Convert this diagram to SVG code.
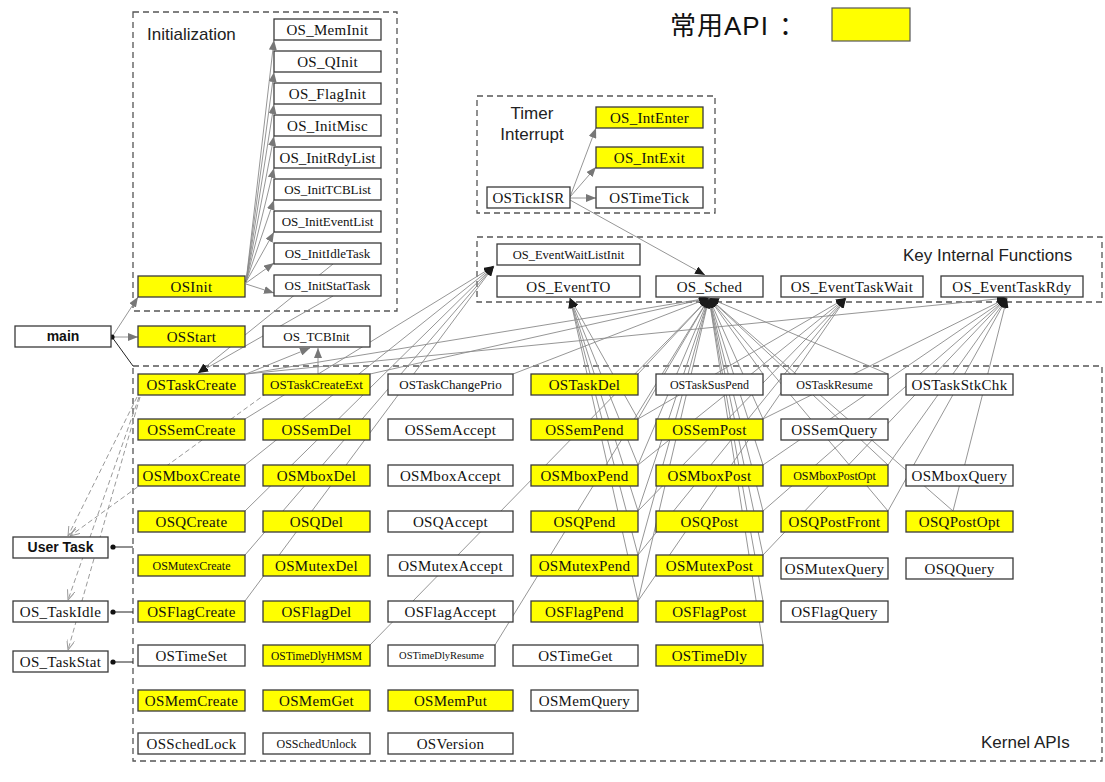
<svg xmlns="http://www.w3.org/2000/svg" width="1105" height="782" viewBox="0 0 1105 782">
<style>
  .bx{stroke:#3a3a3a;stroke-width:1.3;fill:#fff}
  .y{fill:#ffff00}
  .t{font-family:"Liberation Serif","Times New Roman",serif;font-size:15px;fill:#111;text-anchor:middle;letter-spacing:0.3px}
  .s13{font-size:13px;letter-spacing:0}
  .s12{font-size:12px;letter-spacing:0}
  .s11{font-size:11.5px;letter-spacing:0}
  .s10{font-size:10.5px;letter-spacing:0}
  .s125{font-size:12.5px;letter-spacing:0}
  .lbl{font-family:"Liberation Sans",Arial,sans-serif;font-size:17px;fill:#222}
  .bold{font-family:"Liberation Sans",Arial,sans-serif;font-size:14px;font-weight:bold;fill:#111;text-anchor:middle}
  .grp{fill:none;stroke:#555;stroke-width:1.3;stroke-dasharray:6,4}
  .ca{stroke:#8a8a8a;stroke-width:0.9;fill:none;marker-end:url(#arr)}
  .ck{stroke:#8a8a8a;stroke-width:0.9;fill:none;marker-end:url(#arrk)}
  .cd{stroke:#9a9a9a;stroke-width:1;fill:none;stroke-dasharray:5,3;marker-end:url(#open)}
  .k{stroke:#222;stroke-width:1;fill:none}
</style>
<defs>
  <marker id="arr" viewBox="0 0 10 8" refX="10" refY="4" markerWidth="10" markerHeight="8" markerUnits="userSpaceOnUse" orient="auto">
    <path d="M0,0 L10,4 L0,8 z" fill="#777"/>
  </marker>
  <marker id="arrk" viewBox="0 0 10 8" refX="10" refY="4" markerWidth="10" markerHeight="8" markerUnits="userSpaceOnUse" orient="auto">
    <path d="M0,0 L10,4 L0,8 z" fill="#1a1a1a"/>
  </marker>
  <marker id="open" viewBox="0 0 10 8" refX="10" refY="4" markerWidth="10" markerHeight="8" markerUnits="userSpaceOnUse" orient="auto">
    <path d="M0,0 L10,4 L0,8" fill="none" stroke="#999" stroke-width="1"/>
  </marker>
</defs>
<rect width="1105" height="782" fill="#fff"/>

<!-- legend -->
<g id="legend">
  <text x="670" y="35" font-family="'Liberation Sans','Noto Sans CJK SC',sans-serif" font-size="26" letter-spacing="1" fill="#111">常用API<tspan dx="10">：</tspan></text>
  <rect x="832" y="8" width="78" height="33" fill="#ffff00" stroke="#555" stroke-width="1.2"/>
</g>

<!-- cluster frames -->
<g id="clusters">
  <rect class="grp" x="133" y="12" width="264" height="299"/>
  <text class="lbl" x="147" y="40">Initialization</text>
  <rect class="grp" x="477" y="96" width="238" height="117"/>
  <text class="lbl" x="532" y="119" text-anchor="middle">Timer</text>
  <text class="lbl" x="532" y="140" text-anchor="middle">Interrupt</text>
  <rect class="grp" x="477" y="237" width="625" height="65"/>
  <text class="lbl" x="903" y="261">Key Internal Functions</text>
  <rect class="grp" x="133" y="366" width="969" height="395"/>
  <text class="lbl" x="981" y="748" font-size="17.5">Kernel APIs</text>
</g>

<!-- call connectors -->
<g id="connectors">
  <!-- OSInit fan -->
  <line class="ca" x1="246" y1="282" x2="274" y2="40"/>
  <line class="ca" x1="246" y1="282" x2="274" y2="72"/>
  <line class="ca" x1="246" y1="282" x2="274" y2="104"/>
  <line class="ca" x1="246" y1="282" x2="274" y2="136"/>
  <line class="ca" x1="246" y1="282" x2="274" y2="168"/>
  <line class="ca" x1="246" y1="282" x2="274" y2="200"/>
  <line class="ca" x1="246" y1="282" x2="274" y2="232"/>
  <line class="ca" x1="246" y1="283" x2="274" y2="263"/>
  <line class="ca" x1="246" y1="284" x2="274" y2="293"/>
  <!-- timer ISR -->
  <line class="ca" x1="570" y1="197" x2="596" y2="128"/>
  <line class="ca" x1="570" y1="197" x2="596" y2="167"/>
  <line class="ca" x1="570" y1="198" x2="596" y2="198"/>
  <line class="ck" x1="570" y1="200" x2="705" y2="275"/>
  <!-- main -->
  <line class="ca" x1="112" y1="337" x2="138" y2="337"/>
  <line class="ca" x1="112" y1="337" x2="138" y2="297"/>
  <line class="k" x1="112" y1="337" x2="133" y2="366"/>
  <circle cx="112" cy="337" r="2.6" fill="#111"/>
  <!-- task entries attached to the kernel -->
  <line class="k" x1="113" y1="547" x2="133" y2="547"/>
  <circle cx="113" cy="547" r="2.6" fill="#111"/>
  <line class="k" x1="113" y1="612" x2="133" y2="612"/>
  <circle cx="113" cy="612" r="2.6" fill="#111"/>
  <line class="k" x1="113" y1="662" x2="133" y2="662"/>
  <circle cx="113" cy="662" r="2.6" fill="#111"/>
  <!-- task creation (dashed) -->
  <line class="cd" x1="137" y1="397" x2="68" y2="536"/>
  <line class="cd" x1="139" y1="397" x2="68" y2="600"/>
  <line class="cd" x1="140" y1="397" x2="68" y2="650"/>
  <line class="cd" x1="267" y1="393" x2="70" y2="536"/>
  <!-- idle/stat task creation -->
  <line class="ck" x1="333" y1="264" x2="198" y2="373"/>
  <line class="ck" x1="333" y1="296" x2="198" y2="373"/>
  <!-- TCB init -->
  <line class="ca" x1="246" y1="374" x2="310" y2="348"/>
  <line class="ca" x1="318" y1="374" x2="318" y2="348"/>
  <!-- event wait list init -->
  <line class="ck" x1="245" y1="419" x2="494" y2="266"/>
  <line class="ck" x1="245" y1="465" x2="494" y2="266"/>
  <line class="ck" x1="245" y1="511" x2="494" y2="266"/>
  <line class="ck" x1="245" y1="555" x2="494" y2="266"/>
  <line class="ck" x1="245" y1="601" x2="494" y2="266"/>
  <!-- scheduler -->
  <line class="ck" x1="246" y1="374" x2="709" y2="298"/>
  <line class="ck" x1="370" y1="374" x2="709" y2="298"/>
  <line class="ck" x1="513" y1="374" x2="709" y2="298"/>
  <line class="ck" x1="638" y1="374" x2="709" y2="298"/>
  <line class="ck" x1="763" y1="374" x2="709" y2="298"/>
  <line class="ck" x1="888" y1="374" x2="709" y2="298"/>
  <line class="ck" x1="638" y1="419" x2="709" y2="298"/>
  <line class="ck" x1="638" y1="465" x2="709" y2="298"/>
  <line class="ck" x1="638" y1="511" x2="709" y2="298"/>
  <line class="ck" x1="638" y1="555" x2="709" y2="298"/>
  <line class="ck" x1="638" y1="601" x2="709" y2="298"/>
  <line class="ck" x1="763" y1="419" x2="709" y2="298"/>
  <line class="ck" x1="763" y1="465" x2="709" y2="298"/>
  <line class="ck" x1="763" y1="511" x2="709" y2="298"/>
  <line class="ck" x1="763" y1="555" x2="709" y2="298"/>
  <line class="ck" x1="763" y1="601" x2="709" y2="298"/>
  <line class="ck" x1="888" y1="465" x2="709" y2="298"/>
  <line class="ck" x1="888" y1="511" x2="709" y2="298"/>
  <line class="ck" x1="953" y1="511" x2="709" y2="298"/>
  <line class="ck" x1="370" y1="645" x2="709" y2="298"/>
  <line class="ck" x1="495" y1="645" x2="709" y2="298"/>
  <line class="ck" x1="763" y1="645" x2="709" y2="298"/>
  <!-- event timeout -->
  <line class="ck" x1="638" y1="419" x2="570" y2="298"/>
  <line class="ck" x1="638" y1="465" x2="570" y2="298"/>
  <line class="ck" x1="638" y1="511" x2="570" y2="298"/>
  <line class="ck" x1="638" y1="555" x2="570" y2="298"/>
  <line class="ck" x1="638" y1="601" x2="570" y2="298"/>
  <!-- event task wait -->
  <line class="ck" x1="638" y1="419" x2="846" y2="298"/>
  <line class="ck" x1="638" y1="465" x2="846" y2="298"/>
  <line class="ck" x1="638" y1="511" x2="846" y2="298"/>
  <line class="ck" x1="638" y1="555" x2="846" y2="298"/>
  <line class="ck" x1="638" y1="601" x2="846" y2="298"/>
  <!-- event task ready -->
  <line class="ck" x1="246" y1="374" x2="1007" y2="298"/>
  <line class="ck" x1="763" y1="419" x2="1007" y2="298"/>
  <line class="ck" x1="763" y1="465" x2="1007" y2="298"/>
  <line class="ck" x1="763" y1="511" x2="1007" y2="298"/>
  <line class="ck" x1="763" y1="555" x2="1007" y2="298"/>
  <line class="ck" x1="888" y1="465" x2="1007" y2="298"/>
  <line class="ck" x1="888" y1="511" x2="1007" y2="298"/>
  <line class="ck" x1="953" y1="511" x2="1007" y2="298"/>
</g>

<!-- entry points -->
<g id="n_main"><rect class="bx" x="15" y="326" width="96" height="21"/><text class="bold" x="63" y="336.5" dy=".35em">main</text></g>
<g id="n_UserTask"><rect class="bx" x="13" y="537" width="95" height="21"/><text class="bold" x="60.5" y="547.5" dy=".35em">User Task</text></g>
<g id="n_OS_TaskIdle"><rect class="bx" x="13" y="601" width="95" height="21"/><text class="t" x="60.5" y="611.5" dy=".35em">OS_TaskIdle</text></g>
<g id="n_OS_TaskStat"><rect class="bx" x="13" y="651" width="95" height="21"/><text class="t" x="60.5" y="661.5" dy=".35em">OS_TaskStat</text></g>

<!-- initialization -->
<g id="n_OSInit"><rect class="bx y" x="138" y="276" width="107" height="21"/><text class="t" x="191.5" y="286.5" dy=".35em">OSInit</text></g>
<g id="n_OSStart"><rect class="bx y" x="138" y="326" width="107" height="21"/><text class="t" x="191.5" y="336.5" dy=".35em">OSStart</text></g>
<g id="n_OS_TCBInit"><rect class="bx" x="263" y="326" width="107" height="21"/><text class="t s13" x="316.5" y="336.5" dy=".35em">OS_TCBInit</text></g>
<g id="n_OS_MemInit"><rect class="bx" x="274" y="19" width="107" height="21"/><text class="t" x="327.5" y="29.5" dy=".35em">OS_MemInit</text></g>
<g id="n_OS_QInit"><rect class="bx" x="274" y="51" width="107" height="21"/><text class="t" x="327.5" y="61.5" dy=".35em">OS_QInit</text></g>
<g id="n_OS_FlagInit"><rect class="bx" x="274" y="83" width="107" height="21"/><text class="t" x="327.5" y="93.5" dy=".35em">OS_FlagInit</text></g>
<g id="n_OS_InitMisc"><rect class="bx" x="274" y="115" width="107" height="21"/><text class="t" x="327.5" y="125.5" dy=".35em">OS_InitMisc</text></g>
<g id="n_OS_InitRdyList"><rect class="bx" x="274" y="147" width="107" height="21"/><text class="t" x="327.5" y="157.5" dy=".35em" style="letter-spacing:0">OS_InitRdyList</text></g>
<g id="n_OS_InitTCBList"><rect class="bx" x="274" y="179" width="107" height="21"/><text class="t s13" x="327.5" y="189.5" dy=".35em">OS_InitTCBList</text></g>
<g id="n_OS_InitEventList"><rect class="bx" x="274" y="211" width="107" height="21"/><text class="t s13" x="327.5" y="221.5" dy=".35em">OS_InitEventList</text></g>
<g id="n_OS_InitIdleTask"><rect class="bx" x="274" y="243" width="107" height="21"/><text class="t s13" x="327.5" y="253.5" dy=".35em">OS_InitIdleTask</text></g>
<g id="n_OS_InitStatTask"><rect class="bx" x="274" y="275" width="107" height="21"/><text class="t s13" x="327.5" y="285.5" dy=".35em">OS_InitStatTask</text></g>

<!-- timer interrupt -->
<g id="n_OSTickISR"><rect class="bx" x="487" y="187" width="83" height="21"/><text class="t" x="528.5" y="197.5" dy=".35em">OSTickISR</text></g>
<g id="n_OS_IntEnter"><rect class="bx y" x="596" y="107" width="107" height="21"/><text class="t" x="649.5" y="117.5" dy=".35em">OS_IntEnter</text></g>
<g id="n_OS_IntExit"><rect class="bx y" x="596" y="147" width="107" height="21"/><text class="t" x="649.5" y="157.5" dy=".35em">OS_IntExit</text></g>
<g id="n_OSTimeTick"><rect class="bx" x="596" y="187" width="107" height="21"/><text class="t" x="649.5" y="197.5" dy=".35em">OSTimeTick</text></g>

<!-- key internal functions -->
<g id="n_OS_EventWaitListInit"><rect class="bx" x="497" y="244" width="143" height="21"/><text class="t s125" x="568.5" y="254.5" dy=".35em">OS_EventWaitListInit</text></g>
<g id="n_OS_EventTO"><rect class="bx" x="497" y="276" width="143" height="21"/><text class="t" x="568.5" y="286.5" dy=".35em">OS_EventTO</text></g>
<g id="n_OS_Sched"><rect class="bx" x="656" y="276" width="107" height="21"/><text class="t" x="709.5" y="286.5" dy=".35em">OS_Sched</text></g>
<g id="n_OS_EventTaskWait"><rect class="bx" x="781" y="276" width="142" height="21"/><text class="t" x="852" y="286.5" dy=".35em">OS_EventTaskWait</text></g>
<g id="n_OS_EventTaskRdy"><rect class="bx" x="941" y="276" width="142" height="21"/><text class="t" x="1012" y="286.5" dy=".35em">OS_EventTaskRdy</text></g>

<!-- kernel API: tasks -->
<g id="n_OSTaskCreate"><rect class="bx y" x="138" y="374" width="107" height="21"/><text class="t" x="191.5" y="384.5" dy=".35em">OSTaskCreate</text></g>
<g id="n_OSTaskCreateExt"><rect class="bx y" x="263" y="374" width="107" height="21"/><text class="t s13" x="316.5" y="384.5" dy=".35em">OSTaskCreateExt</text></g>
<g id="n_OSTaskChangePrio"><rect class="bx" x="388" y="374" width="125" height="21"/><text class="t s13" x="450.5" y="384.5" dy=".35em">OSTaskChangePrio</text></g>
<g id="n_OSTaskDel"><rect class="bx y" x="531" y="374" width="107" height="21"/><text class="t" x="584.5" y="384.5" dy=".35em">OSTaskDel</text></g>
<g id="n_OSTaskSusPend"><rect class="bx" x="656" y="374" width="107" height="21"/><text class="t s12" x="709.5" y="384.5" dy=".35em">OSTaskSusPend</text></g>
<g id="n_OSTaskResume"><rect class="bx" x="781" y="374" width="107" height="21"/><text class="t s12" x="834.5" y="384.5" dy=".35em">OSTaskResume</text></g>
<g id="n_OSTaskStkChk"><rect class="bx" x="906" y="374" width="107" height="21"/><text class="t" x="959.5" y="384.5" dy=".35em">OSTaskStkChk</text></g>

<!-- kernel API: semaphores -->
<g id="n_OSSemCreate"><rect class="bx y" x="138" y="419" width="107" height="21"/><text class="t" x="191.5" y="429.5" dy=".35em">OSSemCreate</text></g>
<g id="n_OSSemDel"><rect class="bx y" x="263" y="419" width="107" height="21"/><text class="t" x="316.5" y="429.5" dy=".35em">OSSemDel</text></g>
<g id="n_OSSemAccept"><rect class="bx" x="388" y="419" width="125" height="21"/><text class="t" x="450.5" y="429.5" dy=".35em">OSSemAccept</text></g>
<g id="n_OSSemPend"><rect class="bx y" x="531" y="419" width="107" height="21"/><text class="t" x="584.5" y="429.5" dy=".35em">OSSemPend</text></g>
<g id="n_OSSemPost"><rect class="bx y" x="656" y="419" width="107" height="21"/><text class="t" x="709.5" y="429.5" dy=".35em">OSSemPost</text></g>
<g id="n_OSSemQuery"><rect class="bx" x="781" y="419" width="107" height="21"/><text class="t" x="834.5" y="429.5" dy=".35em">OSSemQuery</text></g>

<!-- kernel API: mailboxes -->
<g id="n_OSMboxCreate"><rect class="bx y" x="138" y="465" width="107" height="21"/><text class="t" x="191.5" y="475.5" dy=".35em">OSMboxCreate</text></g>
<g id="n_OSMboxDel"><rect class="bx y" x="263" y="465" width="107" height="21"/><text class="t" x="316.5" y="475.5" dy=".35em">OSMboxDel</text></g>
<g id="n_OSMboxAccept"><rect class="bx" x="388" y="465" width="125" height="21"/><text class="t" x="450.5" y="475.5" dy=".35em">OSMboxAccept</text></g>
<g id="n_OSMboxPend"><rect class="bx y" x="531" y="465" width="107" height="21"/><text class="t" x="584.5" y="475.5" dy=".35em">OSMboxPend</text></g>
<g id="n_OSMboxPost"><rect class="bx y" x="656" y="465" width="107" height="21"/><text class="t" x="709.5" y="475.5" dy=".35em">OSMboxPost</text></g>
<g id="n_OSMboxPostOpt"><rect class="bx y" x="781" y="465" width="107" height="21"/><text class="t s12" x="834.5" y="475.5" dy=".35em">OSMboxPostOpt</text></g>
<g id="n_OSMboxQuery"><rect class="bx" x="906" y="465" width="107" height="21"/><text class="t" x="959.5" y="475.5" dy=".35em">OSMboxQuery</text></g>

<!-- kernel API: queues -->
<g id="n_OSQCreate"><rect class="bx y" x="138" y="511" width="107" height="21"/><text class="t" x="191.5" y="521.5" dy=".35em">OSQCreate</text></g>
<g id="n_OSQDel"><rect class="bx y" x="263" y="511" width="107" height="21"/><text class="t" x="316.5" y="521.5" dy=".35em">OSQDel</text></g>
<g id="n_OSQAccept"><rect class="bx" x="388" y="511" width="125" height="21"/><text class="t" x="450.5" y="521.5" dy=".35em">OSQAccept</text></g>
<g id="n_OSQPend"><rect class="bx y" x="531" y="511" width="107" height="21"/><text class="t" x="584.5" y="521.5" dy=".35em">OSQPend</text></g>
<g id="n_OSQPost"><rect class="bx y" x="656" y="511" width="107" height="21"/><text class="t" x="709.5" y="521.5" dy=".35em">OSQPost</text></g>
<g id="n_OSQPostFront"><rect class="bx y" x="781" y="511" width="107" height="21"/><text class="t" x="834.5" y="521.5" dy=".35em">OSQPostFront</text></g>
<g id="n_OSQPostOpt"><rect class="bx y" x="906" y="511" width="107" height="21"/><text class="t" x="959.5" y="521.5" dy=".35em">OSQPostOpt</text></g>

<!-- kernel API: mutexes -->
<g id="n_OSMutexCreate"><rect class="bx y" x="138" y="555" width="107" height="21"/><text class="t s12" x="191.5" y="565.5" dy=".35em">OSMutexCreate</text></g>
<g id="n_OSMutexDel"><rect class="bx y" x="263" y="555" width="107" height="21"/><text class="t" x="316.5" y="565.5" dy=".35em">OSMutexDel</text></g>
<g id="n_OSMutexAccept"><rect class="bx" x="388" y="555" width="125" height="21"/><text class="t" x="450.5" y="565.5" dy=".35em">OSMutexAccept</text></g>
<g id="n_OSMutexPend"><rect class="bx y" x="531" y="555" width="107" height="21"/><text class="t" x="584.5" y="565.5" dy=".35em">OSMutexPend</text></g>
<g id="n_OSMutexPost"><rect class="bx y" x="656" y="555" width="107" height="21"/><text class="t" x="709.5" y="565.5" dy=".35em">OSMutexPost</text></g>
<g id="n_OSMutexQuery"><rect class="bx" x="781" y="558" width="107" height="21"/><text class="t" x="834.5" y="568.5" dy=".35em">OSMutexQuery</text></g>
<g id="n_OSQQuery"><rect class="bx" x="906" y="558" width="107" height="21"/><text class="t" x="959.5" y="568.5" dy=".35em">OSQQuery</text></g>

<!-- kernel API: event flags -->
<g id="n_OSFlagCreate"><rect class="bx y" x="138" y="601" width="107" height="21"/><text class="t" x="191.5" y="611.5" dy=".35em">OSFlagCreate</text></g>
<g id="n_OSFlagDel"><rect class="bx y" x="263" y="601" width="107" height="21"/><text class="t" x="316.5" y="611.5" dy=".35em">OSFlagDel</text></g>
<g id="n_OSFlagAccept"><rect class="bx" x="388" y="601" width="125" height="21"/><text class="t" x="450.5" y="611.5" dy=".35em">OSFlagAccept</text></g>
<g id="n_OSFlagPend"><rect class="bx y" x="531" y="601" width="107" height="21"/><text class="t" x="584.5" y="611.5" dy=".35em">OSFlagPend</text></g>
<g id="n_OSFlagPost"><rect class="bx y" x="656" y="601" width="107" height="21"/><text class="t" x="709.5" y="611.5" dy=".35em">OSFlagPost</text></g>
<g id="n_OSFlagQuery"><rect class="bx" x="781" y="601" width="107" height="21"/><text class="t" x="834.5" y="611.5" dy=".35em">OSFlagQuery</text></g>

<!-- kernel API: time -->
<g id="n_OSTimeSet"><rect class="bx" x="138" y="645" width="107" height="21"/><text class="t" x="191.5" y="655.5" dy=".35em">OSTimeSet</text></g>
<g id="n_OSTimeDlyHMSM"><rect class="bx y" x="263" y="645" width="107" height="21"/><text class="t s11" x="316.5" y="655.5" dy=".35em">OSTimeDlyHMSM</text></g>
<g id="n_OSTimeDlyResume"><rect class="bx" x="388" y="645" width="107" height="21"/><text class="t s10" x="441.5" y="655.5" dy=".35em">OSTimeDlyResume</text></g>
<g id="n_OSTimeGet"><rect class="bx" x="513" y="645" width="125" height="21"/><text class="t" x="575.5" y="655.5" dy=".35em">OSTimeGet</text></g>
<g id="n_OSTimeDly"><rect class="bx y" x="656" y="645" width="107" height="21"/><text class="t" x="709.5" y="655.5" dy=".35em">OSTimeDly</text></g>

<!-- kernel API: memory -->
<g id="n_OSMemCreate"><rect class="bx y" x="138" y="690" width="107" height="21"/><text class="t" x="191.5" y="700.5" dy=".35em">OSMemCreate</text></g>
<g id="n_OSMemGet"><rect class="bx y" x="263" y="690" width="107" height="21"/><text class="t" x="316.5" y="700.5" dy=".35em">OSMemGet</text></g>
<g id="n_OSMemPut"><rect class="bx y" x="388" y="690" width="125" height="21"/><text class="t" x="450.5" y="700.5" dy=".35em">OSMemPut</text></g>
<g id="n_OSMemQuery"><rect class="bx" x="531" y="690" width="107" height="21"/><text class="t" x="584.5" y="700.5" dy=".35em">OSMemQuery</text></g>

<!-- kernel API: misc -->
<g id="n_OSSchedLock"><rect class="bx" x="138" y="733" width="107" height="21"/><text class="t" x="191.5" y="743.5" dy=".35em">OSSchedLock</text></g>
<g id="n_OSSchedUnlock"><rect class="bx" x="263" y="733" width="107" height="21"/><text class="t s12" x="316.5" y="743.5" dy=".35em">OSSchedUnlock</text></g>
<g id="n_OSVersion"><rect class="bx" x="388" y="733" width="125" height="21"/><text class="t" x="450.5" y="743.5" dy=".35em">OSVersion</text></g>
</svg>
